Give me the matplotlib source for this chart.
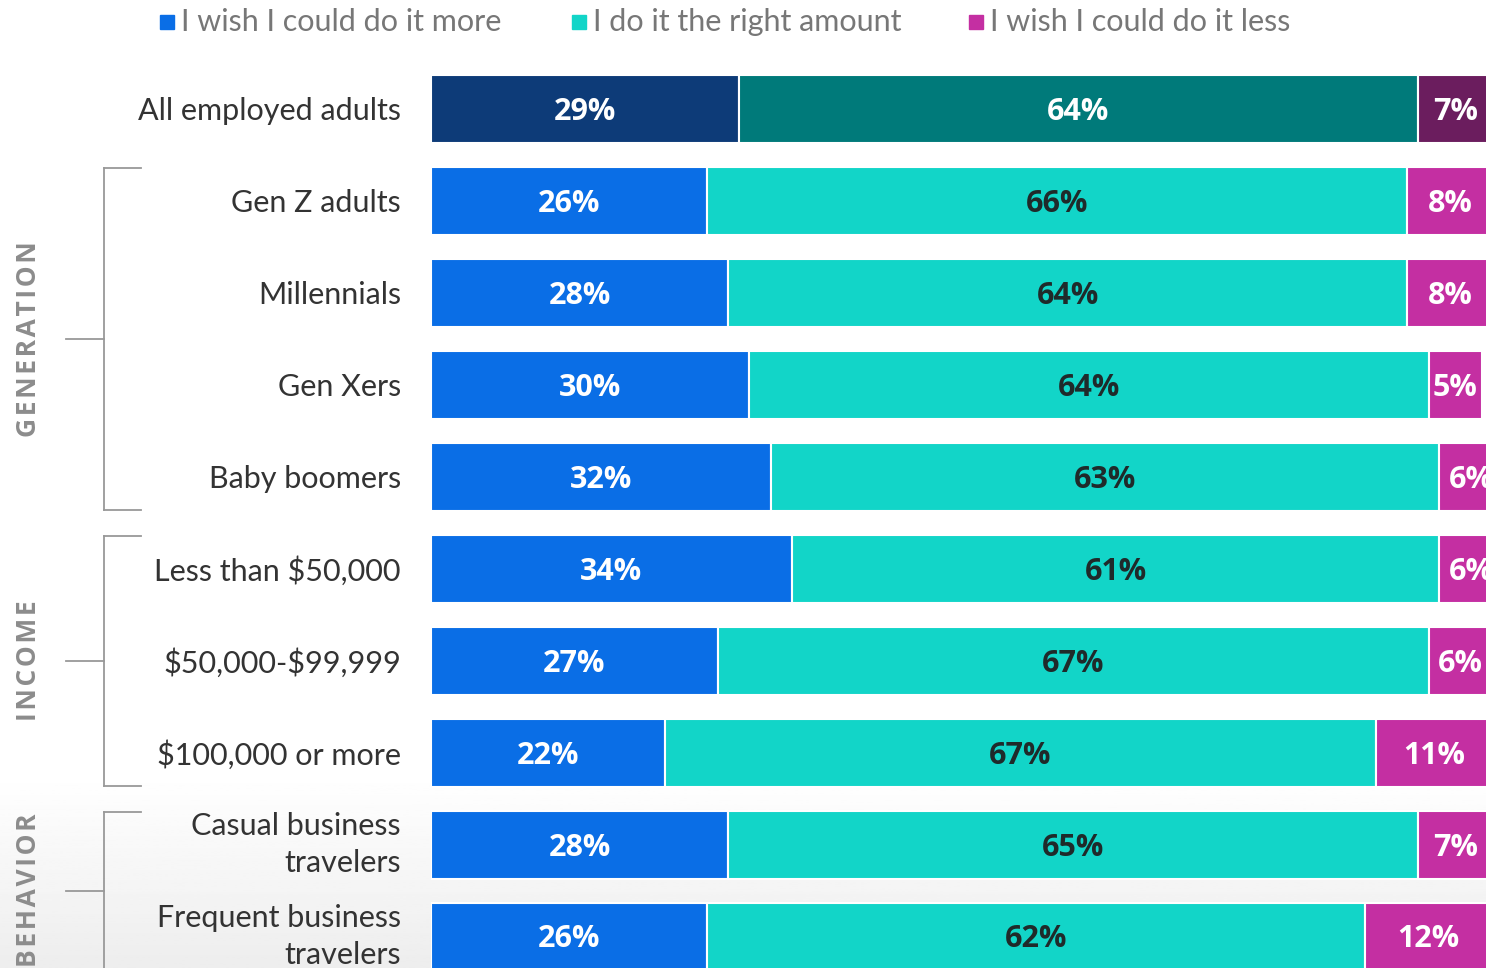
import numpy as np
import matplotlib
matplotlib.use("Agg")
import matplotlib.pyplot as plt
import matplotlib.transforms as mtransforms
from matplotlib.patches import Rectangle
from matplotlib.lines import Line2D

# data
categories = ["All employed adults", "Gen Z adults", "Millennials", "Gen Xers",
              "Baby boomers", "Less than \\$50,000", "\\$50,000-\\$99,999",
              "\\$100,000 or more", "Casual business\ntravelers",
              "Frequent business\ntravelers"]
more = [29, 26, 28, 30, 32, 34, 27, 22, 28, 26]
right = [64, 66, 64, 64, 63, 61, 67, 67, 65, 62]
less = [7, 8, 8, 5, 6, 6, 6, 11, 7, 12]
series_names = ["I wish I could do it more", "I do it the right amount",
                "I wish I could do it less"]
groups = [("GENERATION", 1, 4), ("INCOME", 5, 7), ("BEHAVIOR", 8, 9)]

# colours: first row darker, others bright
dark_cols = ["#0d3b78", "#007a7a", "#6b1d5e"]
bright_cols = ["#0a6ee6", "#12d5c8", "#c42fa2"]
label_cols = ["white", "#1f2a2a", "white"]

plt.rcParams["font.family"] = ["Lato", "DejaVu Sans"]

W, H = 1486, 968
fig = plt.figure(figsize=(W / 100, H / 100), dpi=100)

# light grey gradient in the lower part of the background
bg = fig.add_axes([0, 0, 1, 1], zorder=-5)
yy = np.linspace(0, 1, 400)
shade = np.where(yy < 0.80, 1.0, 1.0 - (yy - 0.80) / 0.20 * 0.07)
bg.imshow(np.tile(shade[:, None], (1, 2)), cmap="gray", vmin=0, vmax=1,
          aspect="auto", extent=[0, 1, 1, 0])
bg.axis("off")

x0 = 431 / W
ax = fig.add_axes([x0, 0, 1 - x0, 1])
ax.patch.set_alpha(0)
y = np.arange(len(categories))

left = np.zeros(len(categories))
for k, vals in enumerate([more, right, less]):
    cols = [dark_cols[k] if i == 0 else bright_cols[k] for i in y]
    ax.barh(y, vals, left=left, height=0.74, color=cols,
            edgecolor="white", linewidth=1.5)
    for i, v in enumerate(vals):
        tc = "white" if i == 0 else label_cols[k]
        ax.text(left[i] + v / 2, i + 0.03, f"{v}%", ha="center", va="center",
                fontsize=22, fontweight="bold", color=tc,
                family=["Open Sans", "DejaVu Sans"], clip_on=True)
    left = left + np.array(vals)

ax.set_xlim(0, 99.4)
ax.set_ylim(9.34, -1.185)
ax.set_yticks(y)
ax.set_yticklabels([])
ax.tick_params(axis="y", length=0)
ax.set_xticks([])
for s in ax.spines.values():
    s.set_visible(False)

# category labels to the left of the bars
lab_tr = ax.get_yaxis_transform() + mtransforms.ScaledTranslation(
    -0.30, 0, fig.dpi_scale_trans)
for i, lab in enumerate(categories):
    va = "center" if "\n" in lab else "center_baseline"
    ax.text(0, i, lab, transform=lab_tr, ha="right", va=va,
            fontsize=22, color="#333333", linespacing=1.4, clip_on=False)

# group brackets (x in inches from the left, y in data units)
trans = mtransforms.blended_transform_factory(fig.dpi_scale_trans, ax.transData)
px = lambda p: p / 100.0
lc = "#999999"
for name, a, b in groups:
    top, bot = a - 0.36, b + 0.36
    mid = (a + b) / 2
    for xs, ys in [([104, 104], [top, bot]), ([104, 141], [top, top]),
                   ([104, 141], [bot, bot]), ([66, 104], [mid, mid])]:
        fig.add_artist(Line2D([px(v) for v in xs], ys, transform=trans,
                              color=lc, lw=1.3, clip_on=False))
    spaced = "\u200a".join(name)
    fig.text(px(29), mid, spaced, transform=trans, rotation=90, ha="center",
             va="center", fontsize=19, fontweight="bold", color="#8c8c8c",
             family=["Open Sans", "DejaVu Sans"])

# legend at the top
leg_x = [160, 572, 969]
for k, name in enumerate(series_names):
    fig.add_artist(Rectangle((leg_x[k] / W, 1 - 29 / H), 14 / W, 14 / H,
                             transform=fig.transFigure, color=bright_cols[k]))
    fig.text((leg_x[k] + 21) / W, 1 - 22 / H, name, ha="left", va="center",
             fontsize=22, color="#777777")

fig.savefig("out.png", dpi=100)
